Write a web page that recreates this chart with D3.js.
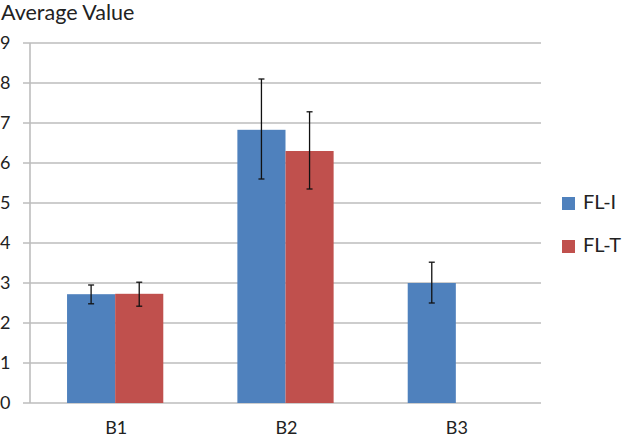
<!DOCTYPE html>
<html><head><meta charset="utf-8">
<script src="https://cdn.jsdelivr.net/npm/d3@7"></script>
<style>body{margin:0;background:#fff}svg{display:block}text{font-family:Lato,"Open Sans",sans-serif}</style>
</head><body><svg id="c" width="628" height="437"></svg>
<script>
const categories = ["B1","B2","B3"];
const seriesNames = ["FL-I","FL-T"];
const flI = [2.72, 6.83, 3.0];
const flT = [2.73, 6.3, null];
const flIErrLow = [2.48, 5.6, 2.5];
const flIErrHigh = [2.95, 8.1, 3.52];
const flTErrLow = [2.42, 5.35, null];
const flTErrHigh = [3.02, 7.28, null];
const yTicks = [0,1,2,3,4,5,6,7,8,9];
const colors = ["#4F81BD","#C0504D"];

const svg = d3.select("#c");
const m = {l:30, r:87, t:43, b:34};
const W = 628, H = 437;
const x = d3.scaleBand().domain(categories).range([m.l, W-m.r]).padding(0);
const y = d3.scaleLinear().domain([0,9]).range([H-m.b, m.t]);
const groupW = x.bandwidth()*0.565;
const x1 = d3.scaleBand().domain(seriesNames).range([0, groupW]).padding(0);

// gridlines
svg.append("g").selectAll("line").data(yTicks).join("line")
  .attr("x1", m.l-7).attr("x2", W-m.r).attr("y1", d=>y(d)).attr("y2", d=>y(d))
  .attr("stroke","#bdbdbd").attr("stroke-width",1.6);
// y axis line
svg.append("line").attr("x1",m.l).attr("x2",m.l).attr("y1",y(9)).attr("y2",y(0))
  .attr("stroke","#bdbdbd").attr("stroke-width",1.6);
// y tick labels
svg.append("g").selectAll("text").data(yTicks).join("text")
  .attr("x", 0).attr("y", d=>y(d)).attr("dy","0.36em")
  .attr("font-size",18).attr("fill","#222").text(d=>d);

// bars
const data = [];
categories.forEach((c,i)=>{
  data.push({c, s:"FL-I", v:flI[i], lo:flIErrLow[i], hi:flIErrHigh[i], col:colors[0]});
  data.push({c, s:"FL-T", v:flT[i], lo:flTErrLow[i], hi:flTErrHigh[i], col:colors[1]});
});
const valid = data.filter(d=>d.v!=null);
const bx = d => x(d.c) + (x.bandwidth()-groupW)/2 + x1(d.s);
svg.append("g").selectAll("rect").data(valid).join("rect")
  .attr("x", bx).attr("width", x1.bandwidth())
  .attr("y", d=>y(d.v)).attr("height", d=>y(0)-y(d.v))
  .attr("fill", d=>d.col);
// error bars
const eg = svg.append("g").attr("stroke","#111").attr("stroke-width",1.3);
valid.forEach(d=>{
  const cx = bx(d) + x1.bandwidth()/2;
  eg.append("line").attr("x1",cx).attr("x2",cx).attr("y1",y(d.hi)).attr("y2",y(d.lo));
  eg.append("line").attr("x1",cx-3).attr("x2",cx+3).attr("y1",y(d.hi)).attr("y2",y(d.hi));
  eg.append("line").attr("x1",cx-3).attr("x2",cx+3).attr("y1",y(d.lo)).attr("y2",y(d.lo));
});
// x labels
svg.append("g").selectAll("text").data(categories).join("text")
  .attr("x", d=>x(d)+x.bandwidth()/2+1).attr("y", 434)
  .attr("text-anchor","middle").attr("font-size",18).attr("fill","#222").text(d=>d);
// title
svg.append("text").attr("x",1).attr("y",20).attr("font-size",21.5).attr("fill","#222").text("Average Value");
// legend
const lg = svg.append("g");
seriesNames.forEach((s,i)=>{
  lg.append("rect").attr("x",562).attr("y",197+i*43).attr("width",13).attr("height",13).attr("fill",colors[i]);
  lg.append("text").attr("x",583).attr("y",209+i*43).attr("font-size",20).attr("fill","#222").text(s);
});
</script></body></html>
